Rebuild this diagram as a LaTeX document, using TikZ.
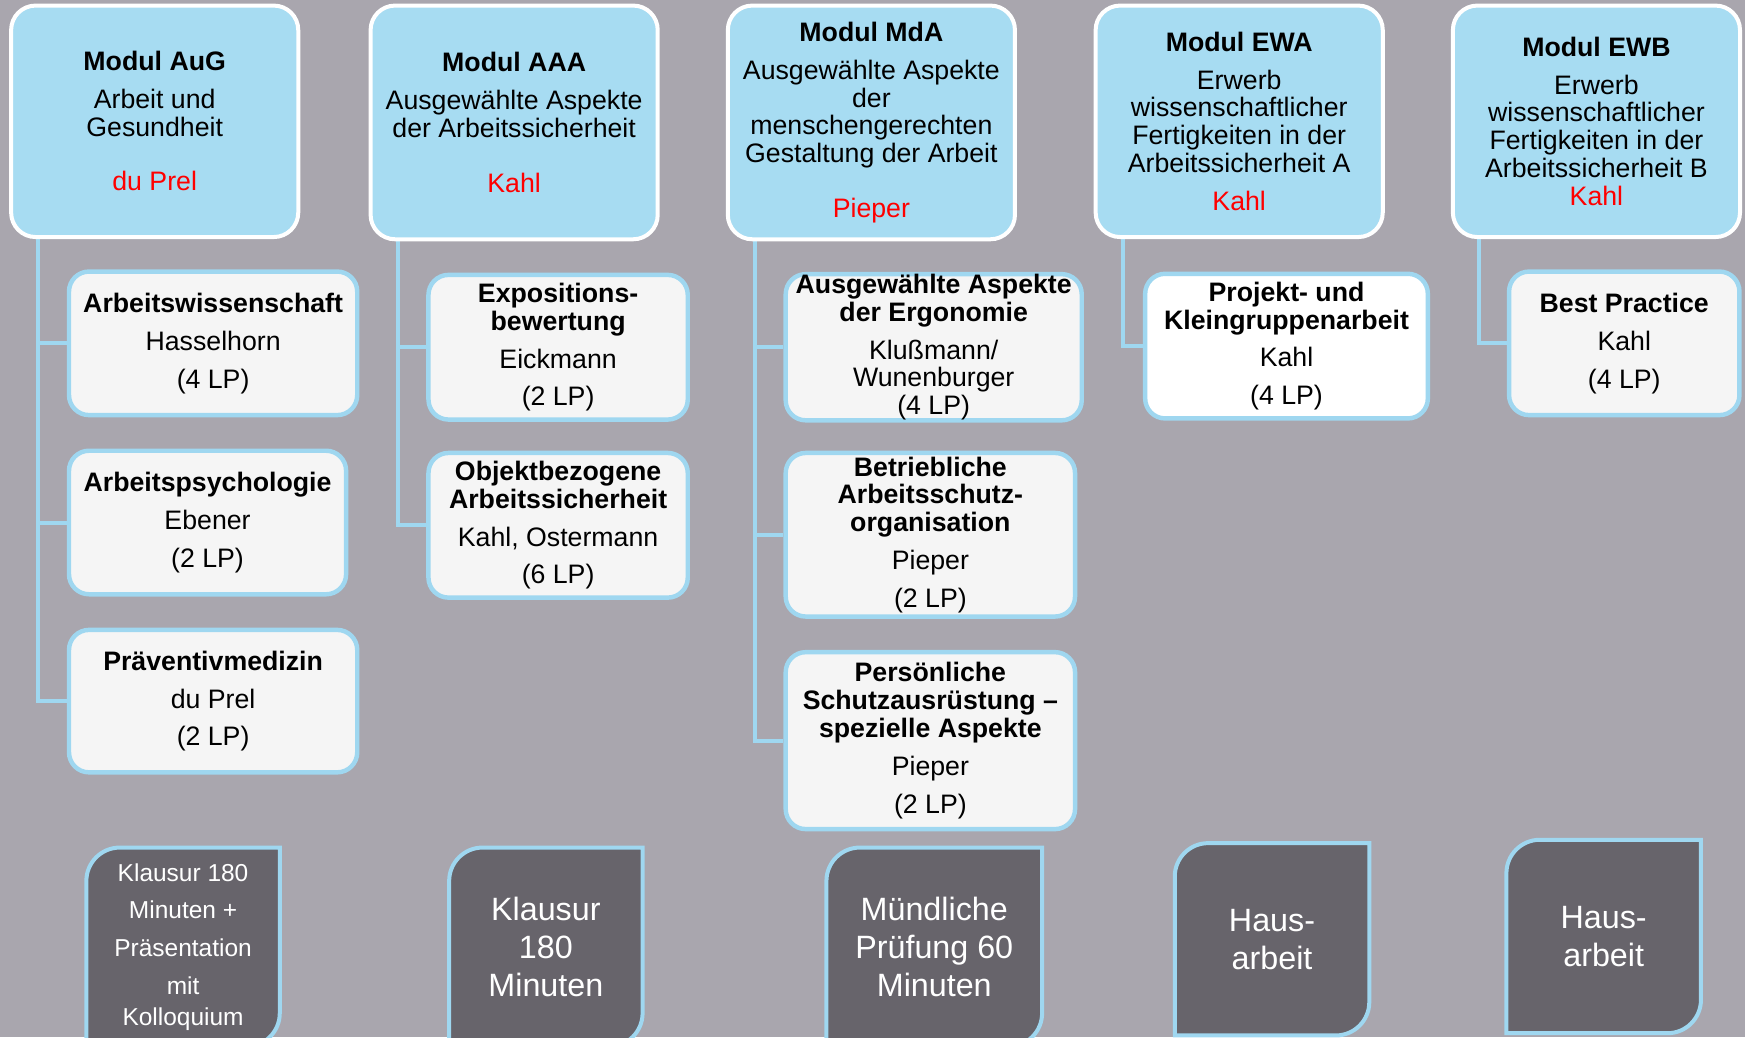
\documentclass[tikz,border=0pt]{standalone}
\usepackage{fontspec}
\setmainfont{Liberation Sans}
\usepackage{tikz}
\pgfdeclarelayer{bg}
\pgfsetlayers{bg,main}
\definecolor{hgrau}{HTML}{A9A6AE}
\definecolor{modblau}{HTML}{A7DCF2}
\definecolor{linieblau}{HTML}{9FD7F0}
\definecolor{kursweiss}{HTML}{F5F5F5}
\definecolor{pruefgrau}{HTML}{67646B}

\begin{document}
\begin{tikzpicture}[x=0.5pt, y=-0.5pt,
        modul/.style={draw=white, line width=1.8pt, fill=modblau, rounded corners=11pt,
                align=center, inner sep=0pt, minimum width=129pt, minimum height=104pt,
                font=\fontsize{12}{12.5}\selectfont},
        kurs/.style={draw=linieblau, line width=2pt, fill=kursweiss, rounded corners=9pt,
                align=center, inner sep=0pt, font=\fontsize{12}{12.5}\selectfont},
        pruef/.style={align=center, text=white, inner sep=0pt, minimum width=86.5pt,
                font=\fontsize{14.5}{17}\selectfont},
        link/.style={draw=linieblau, line width=1.8pt},
        rahmen/.style={draw=linieblau, line width=1.8pt, fill=pruefgrau}]
        \useasboundingbox (0,0) rectangle (1568,932);
        % Module
        \node (m0) [modul] at (139,109) {\textbf{Modul AuG}\\[4.5pt] Arbeit und\\ Gesundheit\\[12pt] \textcolor{red}{du Prel}};
        \node (m1) [modul, minimum height=105pt] at (462,110) {\textbf{Modul AAA}\\[4.5pt] Ausgewählte Aspekte\\ der Arbeitssicherheit\\[12pt] \textcolor{red}{Kahl}};
        \node (m2) [modul, minimum height=105pt] at (783,110) {\textbf{Modul MdA}\\[4.5pt] Ausgewählte Aspekte\\ der\\ menschengerechten\\ Gestaltung der Arbeit\\[12pt] \textcolor{red}{Pieper}};
        \node (m3) [modul] at (1113.5,109) {\textbf{Modul EWA}\\[4.5pt] Erwerb\\ wissenschaftlicher\\ Fertigkeiten in der\\ Arbeitssicherheit A\\[4.5pt] \textcolor{red}{Kahl}};
        \node (m4) [modul] at (1434.5,109) {\textbf{Modul EWB}\\[4.5pt] Erwerb\\ wissenschaftlicher\\ Fertigkeiten in der\\ Arbeitssicherheit B\\ \textcolor{red}{Kahl}};
        % Lehrveranstaltungen
        \node (c0) [kurs, minimum width=129.5pt, minimum height=64.5pt] at (191.5,308.5) {\textbf{Arbeitswissenschaft}\\[4.5pt] Hasselhorn\\[4.5pt] (4 LP)};
        \node (c1) [kurs, minimum width=124.5pt, minimum height=64.5pt] at (186.5,469.5) {\textbf{Arbeitspsychologie}\\[4.5pt] Ebener\\[4.5pt] (2 LP)};
        \node (c2) [kurs, minimum width=129.5pt, minimum height=64pt] at (191.5,630) {\textbf{Präventivmedizin}\\[4.5pt] du Prel\\[4.5pt] (2 LP)};
        \node (c3) [kurs, minimum width=116.5pt, minimum height=65pt] at (501.5,312) {\textbf{Expositions-}\\ \textbf{bewertung}\\[4.5pt] Eickmann\\[4.5pt] (2 LP)};
        \node (c4) [kurs, minimum width=116.5pt, minimum height=65pt] at (501.5,472) {\textbf{Objektbezogene}\\ \textbf{Arbeitssicherheit}\\[4.5pt] Kahl, Ostermann\\[4.5pt] (6 LP)};
        \node (c5) [kurs, minimum width=133pt, minimum height=65pt] at (839,312) {\textbf{Ausgewählte Aspekte}\\ \textbf{der Ergonomie}\\[4.5pt] Klußmann/\\ Wunenburger\\ (4 LP)};
        \node (c6) [kurs, minimum width=130pt, minimum height=73.5pt] at (836,480.5) {\textbf{Betriebliche}\\ \textbf{Arbeitsschutz-}\\ \textbf{organisation}\\[4.5pt] Pieper\\[4.5pt] (2 LP)};
        \node (c7) [kurs, minimum width=130pt, minimum height=79.5pt] at (836,665.5) {\textbf{Persönliche}\\ \textbf{Schutzausrüstung –}\\ \textbf{spezielle Aspekte}\\[4.5pt] Pieper\\[4.5pt] (2 LP)};
        \node (c8) [kurs, fill=white, minimum width=127pt, minimum height=65pt] at (1156,311) {\textbf{Projekt- und}\\ \textbf{Kleingruppenarbeit}\\[4.5pt] Kahl\\[4.5pt] (4 LP)};
        \node (c9) [kurs, minimum width=103.5pt, minimum height=64.5pt] at (1459.5,308.5) {\textbf{Best Practice}\\[4.5pt] Kahl\\[4.5pt] (4 LP)};
        % Pruefungen
        \node (e0) [pruef, font=\fontsize{11}{17}\selectfont, minimum height=89pt] at (164.5,851) {Klausur 180\\ Minuten +\\ Präsentation\\ mit\\[-3pt] Kolloquium};
        \node (e1) [pruef, minimum height=89pt] at (490.5,851) {Klausur\\ 180\\ Minuten};
        \node (e2) [pruef, minimum width=96.5pt, minimum height=89pt] at (839.5,851) {Mündliche\\ Prüfung 60\\ Minuten};
        \node (e3) [pruef, minimum width=87pt, minimum height=86pt] at (1143,844) {Haus-\\ arbeit};
        \node (e4) [pruef, minimum width=87pt, minimum height=86.5pt] at (1441,841.5) {Haus-\\ arbeit};
        \begin{pgfonlayer}{bg}
                \fill [hgrau] (0,0) rectangle (1568,932);
                \draw [link] ([xshift=13pt]m0.south west) |- (c0.west);
                \draw [link] ([xshift=13pt]m0.south west) |- (c1.west);
                \draw [link] ([xshift=13pt]m0.south west) |- (c2.west);
                \draw [link] ([xshift=13pt]m1.south west) |- (c3.west);
                \draw [link] ([xshift=13pt]m1.south west) |- (c4.west);
                \draw [link] ([xshift=13pt]m2.south west) |- (c5.west);
                \draw [link] ([xshift=13pt]m2.south west) |- (c6.west);
                \draw [link] ([xshift=13pt]m2.south west) |- (c7.west);
                \draw [link] ([xshift=13pt]m3.south west) |- (c8.west);
                \draw [link] ([xshift=12.5pt]m4.south west) |- (c9.west);
                \foreach \e in {e0,e1,e2,e3,e4}
                        \draw [rahmen] (\e.south west) -- ([yshift=-15pt]\e.north west)
                                arc [start angle=180, end angle=90, radius=15pt] -- (\e.north east)
                                -- ([yshift=15pt]\e.south east)
                                arc [start angle=0, end angle=-90, radius=15pt] -- cycle;
        \end{pgfonlayer}
\end{tikzpicture}
\end{document}
